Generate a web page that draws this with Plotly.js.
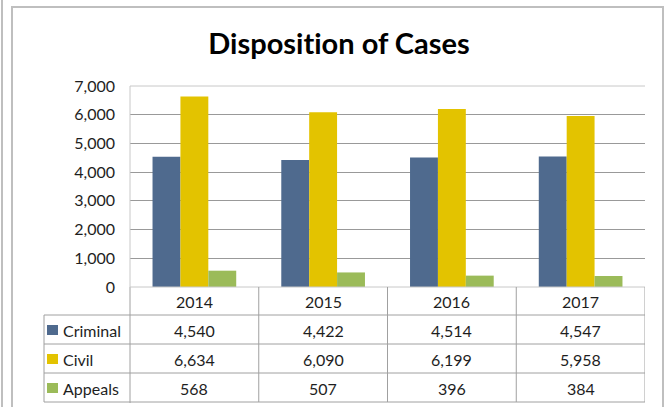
<!DOCTYPE html>
<html><head><meta charset="utf-8">
<script src="https://cdn.plot.ly/plotly-3.0.1.min.js"></script>
<style>html,body{margin:0;padding:0;background:#fff;}#chart{width:670px;height:407px;}</style>
</head><body><div id="chart"></div>
<script>
const years = ['2014', '2015', '2016', '2017'];
const seriesNames = ['Criminal', 'Civil', 'Appeals'];
const criminal = [4540, 4422, 4514, 4547];
const civil = [6634, 6090, 6199, 5958];
const appeals = [568, 507, 396, 384];
const colors = ['#4F6A8E', '#E3C300', '#9BBB59'];
const series = [criminal, civil, appeals];

const L = 130, R = 645, T = 86, B = 287;
const X = px => (px - L) / (R - L);
const Y = py => (B - py) / (B - T);
const FONT = 'Lato, "Open Sans", sans-serif';

const traces = series.map((vals, i) => ({
  type: 'bar', name: seriesNames[i], x: years, y: vals,
  marker: {color: colors[i], line: {width: 0}}, hoverinfo: 'skip'
}));

const tableLine = '#A0A0A0';
const lightLine = '#C8C8C8';
const shapes = [];
function line(x0, y0, x1, y1, color, w, layer) {
  shapes.push({type: 'line', xref: 'paper', yref: 'paper', x0, y0, x1, y1,
    line: {color, width: w || 1}, layer: layer || 'above'});
}
shapes.push({type: 'rect', xref: 'paper', yref: 'paper', x0: X(12), x1: X(663), y0: Y(430), y1: Y(7),
  line: {color: '#BFBFBF', width: 2}, layer: 'below'});
line(X(2), Y(0), X(2), Y(410), '#BFBFBF', 2);
// plot-area border (top and left)
line(X(130), Y(86), X(645), Y(86), lightLine, 1);
line(X(130), Y(86), X(130), Y(287), lightLine, 1);
line(X(130), Y(287), X(130), Y(403), tableLine, 1);
line(X(130), Y(287), X(645), Y(287), lightLine, 1);
[315, 344, 373, 402].forEach(py => line(X(44), Y(py), X(645), Y(py), tableLine, 1));
line(X(44), Y(315), X(44), Y(402), tableLine, 1);
[0.5, 1.5, 2.5, 3.5].forEach(c => shapes.push({type: 'line', xref: 'x', yref: 'paper', x0: c, x1: c,
  y0: Y(287), y1: Y(402), line: {color: tableLine, width: 1}, layer: 'above'}));
const rowCenters = [330, 359, 388];
rowCenters.forEach((py, i) => shapes.push({type: 'rect', xref: 'paper', yref: 'paper',
  x0: X(47), x1: X(58), y0: Y(py + 5), y1: Y(py - 5), fillcolor: colors[i], line: {width: 0}}));

const annotations = [];
const tf = {family: FONT, size: 16, color: '#1E1E1E'};
years.forEach((yr, j) => {
  annotations.push({xref: 'x', yref: 'paper', x: j, y: Y(301), text: yr, showarrow: false,
    xanchor: 'center', yanchor: 'middle', font: tf});
  series.forEach((vals, i) => annotations.push({xref: 'x', yref: 'paper', x: j, y: Y(rowCenters[i]),
    text: vals[j].toLocaleString('en-US'), showarrow: false, xanchor: 'center', yanchor: 'middle', font: tf}));
});
seriesNames.forEach((n, i) => annotations.push({xref: 'paper', yref: 'paper', x: X(61), y: Y(rowCenters[i]),
  text: n, showarrow: false, xanchor: 'left', yanchor: 'middle', font: tf}));

const layout = {
  width: 670, height: 407,
  margin: {l: L, r: 670 - R, t: T, b: 407 - B, pad: 0},
  paper_bgcolor: '#fff', plot_bgcolor: '#fff',
  showlegend: false,
  barmode: 'group', bargap: 0.35, bargroupgap: 0,
  title: {text: '<b>Disposit\u200Cion of Cases</b>', x: 339 / 670, xref: 'container', xanchor: 'center',
    y: 1 - 44 / 407, yanchor: 'middle', font: {family: FONT, size: 29, color: '#000'}},
  xaxis: {type: 'category', range: [-0.5, 3.5], showticklabels: false, showgrid: false,
    zeroline: false, showline: false, ticks: ''},
  yaxis: {range: [0, 7000], dtick: 1000, tickformat: ',d', showgrid: true, gridcolor: '#999999',
    gridwidth: 1, zeroline: false, showline: false, ticks: '', ticklabelstandoff: 14,
    tickfont: {family: FONT, size: 16, color: '#1E1E1E'}},
  shapes, annotations
};
Plotly.newPlot('chart', traces, layout, {staticPlot: true, displayModeBar: false});
</script></body></html>
